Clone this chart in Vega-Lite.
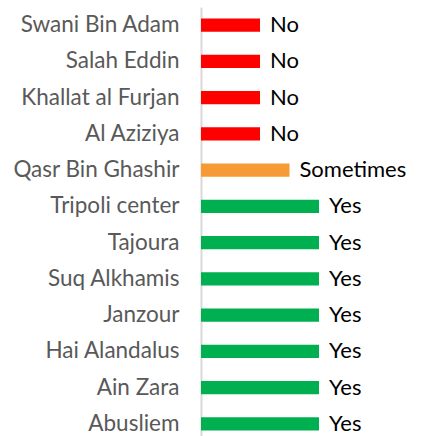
{
  "$schema": "https://vega.github.io/schema/vega-lite/v6.json",
  "autosize": "none",
  "width": 118,
  "height": 435,
  "padding": {"left": 201, "top": 7, "right": 110, "bottom": 0},
  "background": "white",
  "config": {"view": {"stroke": null}},
  "data": {
    "values": [
      {"place": "Swani Bin Adam", "answer": "No", "value": 2},
      {"place": "Salah Eddin", "answer": "No", "value": 2},
      {"place": "Khallat al Furjan", "answer": "No", "value": 2},
      {"place": "Al Aziziya", "answer": "No", "value": 2},
      {"place": "Qasr Bin Ghashir", "answer": "Sometimes", "value": 3},
      {"place": "Tripoli center", "answer": "Yes", "value": 4},
      {"place": "Tajoura", "answer": "Yes", "value": 4},
      {"place": "Suq Alkhamis", "answer": "Yes", "value": 4},
      {"place": "Janzour", "answer": "Yes", "value": 4},
      {"place": "Hai Alandalus", "answer": "Yes", "value": 4},
      {"place": "Ain Zara", "answer": "Yes", "value": 4},
      {"place": "Abusliem", "answer": "Yes", "value": 4}
    ]
  },
  "encoding": {
    "y": {
      "field": "place", "type": "nominal", "sort": null,
      "scale": {"paddingInner": 0.64, "paddingOuter": 0.32},
      "axis": {
        "title": null, "ticks": false, "labelPadding": 22,
        "labelFont": "Lato", "labelFontSize": 22.5, "labelColor": "#595959",
        "domainColor": "#d9d9d9", "domainWidth": 2, "grid": false
      }
    },
    "x": {
      "field": "value", "type": "quantitative",
      "scale": {"domain": [0, 4], "nice": false},
      "axis": null
    }
  },
  "layer": [
    {
      "mark": {"type": "bar"},
      "encoding": {
        "color": {
          "field": "answer", "type": "nominal",
          "scale": {"domain": ["No", "Sometimes", "Yes"], "range": ["#FF0000", "#F79A35", "#00B050"]},
          "legend": null
        }
      }
    },
    {
      "mark": {"type": "text", "align": "left", "baseline": "middle", "dx": 10, "font": "Lato", "fontSize": 22, "color": "#000000"},
      "encoding": {"text": {"field": "answer"}}
    }
  ]
}
